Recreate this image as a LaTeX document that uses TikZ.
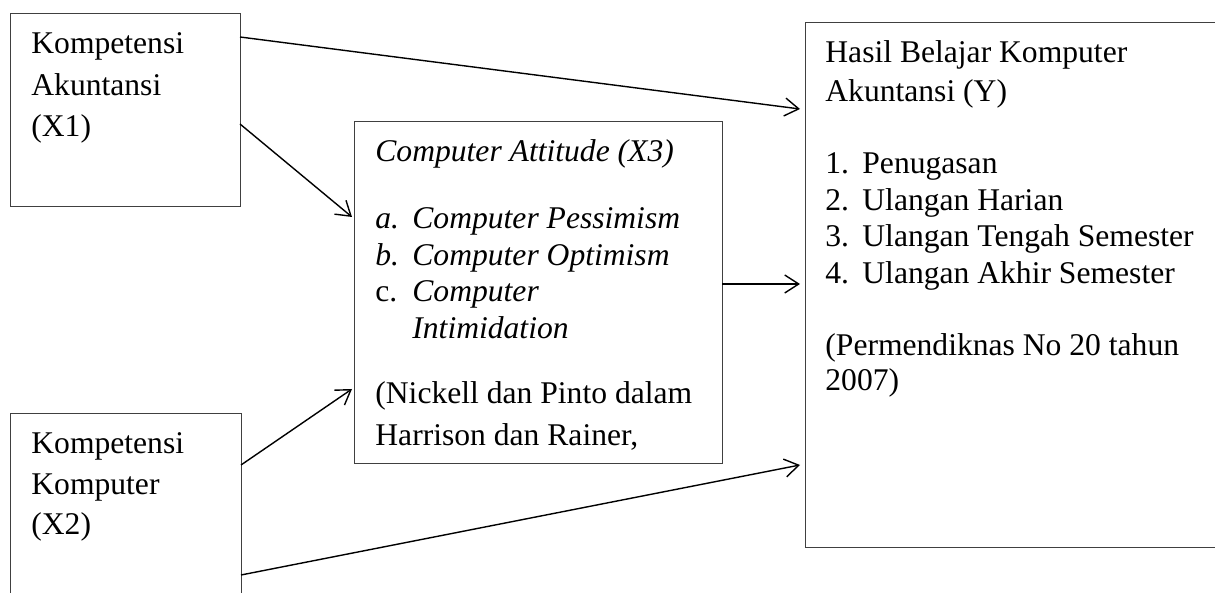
\documentclass[tikz,border=0pt]{standalone}
\usepackage{fontspec}
\setmainfont{Liberation Serif}
\usetikzlibrary{arrows.meta,positioning,calc}

\tikzset{
  box/.style={draw=black!75, line width=0.5pt, inner sep=0pt, outer sep=0pt, anchor=north west},
  txt/.style={inner sep=0pt, anchor=base west, font=\fontsize{15.8}{19}\selectfont},
  arr/.style={-{Straight Barb[length=7pt,width=9pt]}, line width=0.7pt},
}

\begin{document}
\begin{tikzpicture}[x=0.5pt,y=0.5pt]
    \clip (0,0) rectangle (1215,593);

    % boxes
    \node[box, minimum width=115pt, minimum height=96.5pt] (x1) at (10,579) {};
    \node[box, minimum width=115.5pt, minimum height=100pt] (x2) at (10,179) {};
    \node[box, minimum width=184pt, minimum height=171pt] (x3) at (354,471) {};
    \node[box, minimum width=225pt, minimum height=262.5pt] (y) at (805,570) {};

    % X1
    \node[txt] (x1a) at (31,539) {Kompetensi};
    \node[txt] (x1b) at (31,497) {Akuntansi};
    \node[txt] (x1c) at (31,456) {(X1)};

    % X2
    \node[txt] (x2a) at (31,139) {Kompetensi};
    \node[txt] (x2b) at (31,98) {Komputer};
    \node[txt] (x2c) at (31,58) {(X2)};

    % X3
    \node[txt] (x3t) at (375,431) {\itshape Computer Attitude (X3)};
    \node[txt] (x3a) at (375,364) {\itshape a.};
    \node[txt] (x3ai) at (412,364) {\itshape Computer Pessimism};
    \node[txt] (x3b) at (375,327) {\itshape b.};
    \node[txt] (x3bi) at (412,327) {\itshape Computer Optimism};
    \node[txt] (x3c) at (375,291) {c.};
    \node[txt] (x3ci) at (412,291) {\itshape Computer};
    \node[txt] (x3cj) at (412,254) {\itshape Intimidation};
    \node[txt] (x3s1) at (375,189) {(Nickell dan Pinto dalam};
    \node[txt] (x3s2) at (375,147) {Harrison dan Rainer,};

    % Y
    \node[txt] (yt1) at (825,530) {Hasil Belajar Komputer};
    \node[txt] (yt2) at (825,491) {Akuntansi (Y)};
    \node[txt] (y1) at (825,419) {1.};
    \node[txt] (y1i) at (862,419) {Penugasan};
    \node[txt] (y2) at (825,382) {2.};
    \node[txt] (y2i) at (862,382) {Ulangan Harian};
    \node[txt] (y3) at (825,346) {3.};
    \node[txt] (y3i) at (862,346) {Ulangan Tengah Semester};
    \node[txt] (y4) at (825,309) {4.};
    \node[txt] (y4i) at (862,309) {Ulangan Akhir Semester};
    \node[txt] (ys1) at (825,237) {(Permendiknas No 20 tahun};
    \node[txt] (ys2) at (825,202) {2007)};

    % arrows
    \draw[arr] ([yshift=-11.5pt]x1.north east) -- ([xshift=-2.5pt,yshift=-43pt]y.north west);
    \draw[arr] ([yshift=-55pt]x1.north east) -- ([xshift=-1pt,yshift=-47.5pt]x3.north west);
    \draw[arr] ([yshift=-25.5pt]x2.north east) -- ([xshift=-1pt,yshift=-133.5pt]x3.north west);
    \draw[arr] ([yshift=-81pt]x3.north east) -- ([xshift=-2.5pt,yshift=-130.5pt]y.north west);
    \draw[arr] ([yshift=-80.5pt]x2.north east) -- ([xshift=-2.5pt,yshift=-221pt]y.north west);
\end{tikzpicture}
\end{document}
